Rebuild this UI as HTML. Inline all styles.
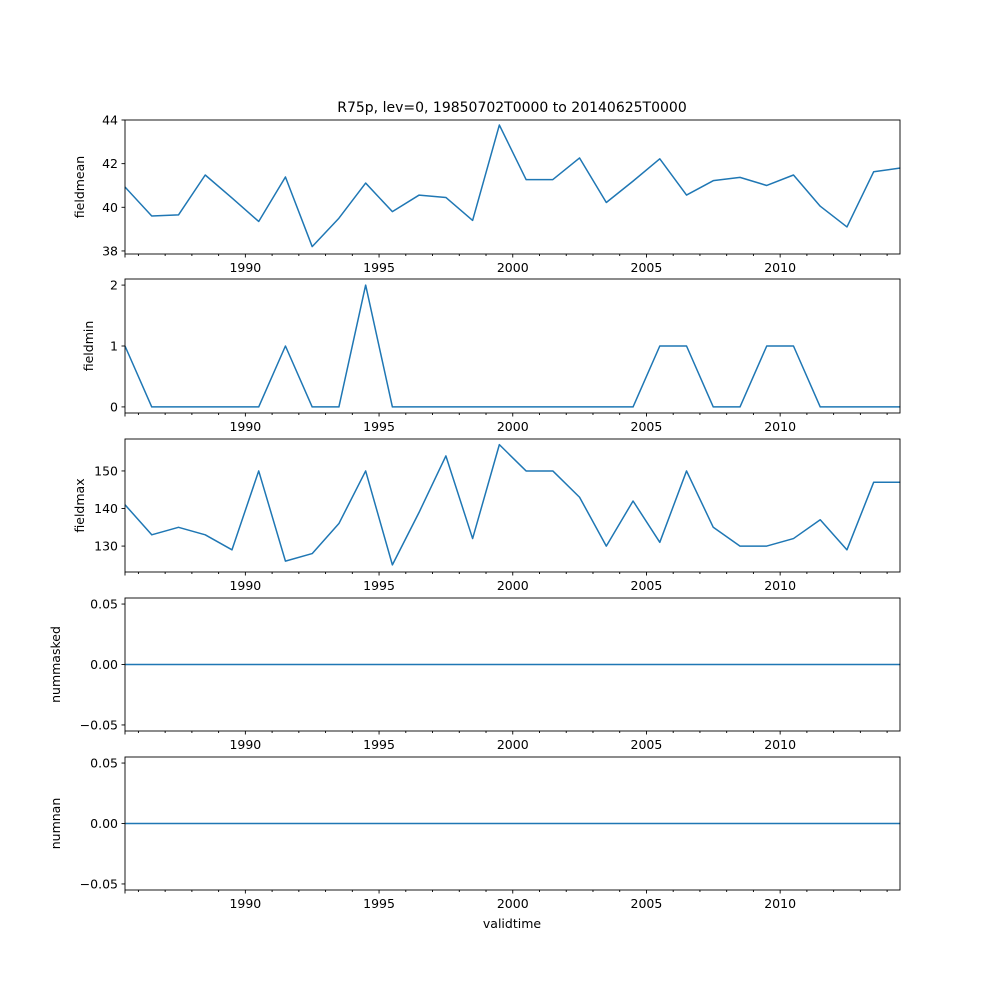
<!DOCTYPE html>
<html><head><meta charset="utf-8"><style>
body{margin:0;background:#fff;}
svg{display:block;font-family:"DejaVu Sans","Liberation Sans",sans-serif;}
</style></head><body>
<svg id="chart" width="1000" height="1000" viewBox="0 0 1000 1000">
<text x="512" y="112" font-size="14" text-anchor="middle">R75p, lev=0, 19850702T0000 to 20140625T0000</text>
<text x="512" y="928" font-size="12.5" text-anchor="middle">validtime</text>
</svg>
<script>
const years = [1985,1986,1987,1988,1989,1990,1991,1992,1993,1994,1995,1996,1997,1998,1999,2000,2001,2002,2003,2004,2005,2006,2007,2008,2009,2010,2011,2012,2013,2014];
const fieldmean = [40.93,39.6,39.65,41.48,40.43,39.35,41.39,38.2,39.5,41.11,39.8,40.56,40.45,39.4,43.77,41.27,41.27,42.26,40.22,41.2,42.22,40.56,41.22,41.37,41.0,41.48,40.05,39.1,41.63,41.8];
const fieldmin = [1,0,0,0,0,0,1,0,0,2,0,0,0,0,0,0,0,0,0,0,1,1,0,0,1,1,0,0,0,0];
const fieldmax = [141,133,135,133,129,150,126,128,136,150,125,139,154,132,157,150,150,143,130,142,131,150,135,130,130,132,137,129,147,147];
const nummasked = years.map(()=>0);
const numnan = years.map(()=>0);
const xTickLabels = [1990,1995,2000,2005,2010];

const NS="http://www.w3.org/2000/svg";
const svg=document.getElementById('chart');
const X0=125,X1=900, T0=1985+182/365, T1=2014+176/365;
function xs(t){return X0+(t-T0)/(T1-T0)*(X1-X0);}
function el(tag,attrs,parent){const e=document.createElementNS(NS,tag);for(const k in attrs)e.setAttribute(k,attrs[k]);(parent||svg).appendChild(e);return e;}

const panels=[
 {name:'fieldmean',data:fieldmean,top:120,bot:254,ymin:37.86,ymax:44.0,ticks:[38,40,42,44],fmt:v=>String(v)},
 {name:'fieldmin',data:fieldmin,top:279,bot:413,ymin:-0.1,ymax:2.1,ticks:[0,1,2],fmt:v=>String(v)},
 {name:'fieldmax',data:fieldmax,top:439,bot:572,ymin:123.1,ymax:158.5,ticks:[130,140,150],fmt:v=>String(v)},
 {name:'nummasked',data:nummasked,top:598,bot:731,ymin:-0.055,ymax:0.055,ticks:[-0.05,0,0.05],fmt:v=>v.toFixed(2).replace('-','−')},
 {name:'numnan',data:numnan,top:757,bot:890,ymin:-0.055,ymax:0.055,ticks:[-0.05,0,0.05],fmt:v=>v.toFixed(2).replace('-','−')}
];
panels.forEach(p=>{
 const g=el('g',{});
 
 
 const ys=v=>p.bot-(v-p.ymin)/(p.ymax-p.ymin)*(p.bot-p.top);
 const pts=p.data.map((v,i)=>xs(years[i]+182/365).toFixed(2)+','+ys(v).toFixed(2)).join(' ');
 const line=el('polyline',{points:pts,fill:'none',stroke:'#1f77b4','stroke-width':1.5,'stroke-linejoin':'round'},g);
 
 
 const frame=el('rect',{x:X0,y:p.top,width:X1-X0,height:p.bot-p.top,fill:'none',stroke:'#000','stroke-width':0.9},g);
 
 
 p.ticks.forEach(t=>{
  const y=ys(t);
  el('line',{x1:X0-3.5,x2:X0,y1:y,y2:y,stroke:'#000','stroke-width':0.9},g);
  const tx=el('text',{x:X0-7,y:y+4.5,'font-size':12.5,'text-anchor':'end'},g);
  tx.textContent=p.fmt(t);
  
  
 });
 for(let yr=1986;yr<=2014;yr++){
  const x=xs(yr);
  const major=xTickLabels.includes(yr);
  el('line',{x1:x,x2:x,y1:p.bot,y2:p.bot+(major?3.5:2),stroke:'#000','stroke-width':0.9},g);
 }
 el('line',{x1:X0,x2:X0,y1:p.bot,y2:p.bot+3.5,stroke:'#000','stroke-width':0.9},g);
 xTickLabels.forEach(yr=>{
  const tx=el('text',{x:xs(yr),y:p.bot+18,'font-size':12.5,'text-anchor':'middle'},g);
  tx.textContent=yr;
  
  
 });
 const cy=(p.top+p.bot)/2;
 const lx=(p.name==='fieldmean'||p.name==='fieldmax')?84:(p.name==='fieldmin'?93:60);
 const yl=el('text',{x:lx,y:cy,'font-size':12.5,'text-anchor':'middle',transform:`rotate(-90 ${lx} ${cy})`},g);
 yl.textContent=p.name;
 
 
});
</script>
</body></html>
